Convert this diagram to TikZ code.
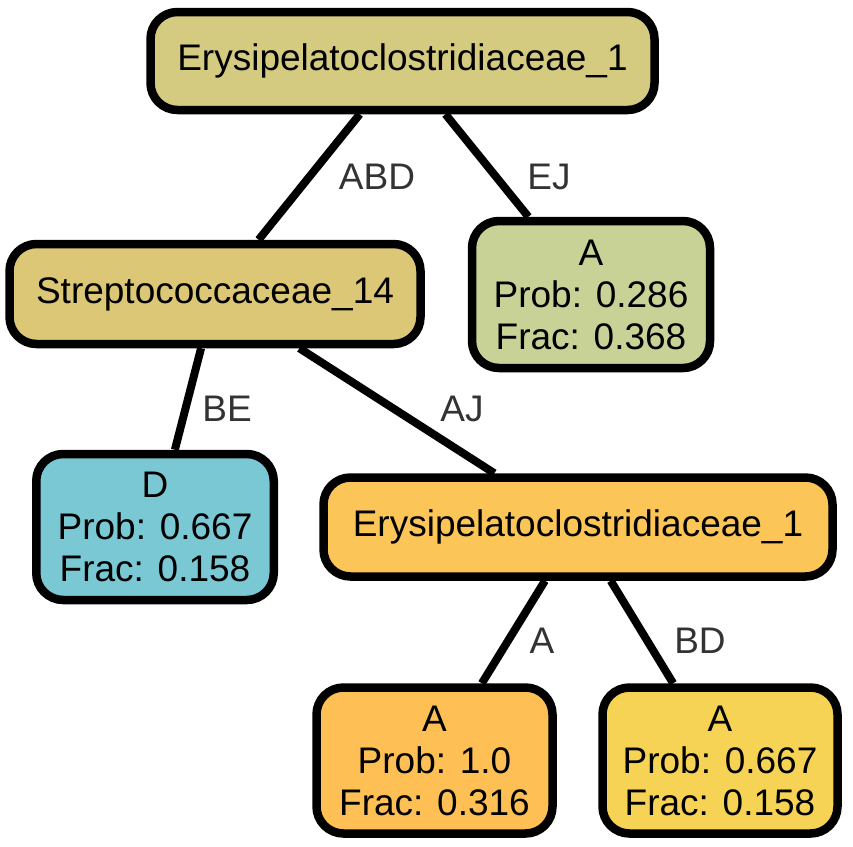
\documentclass[tikz,border=0pt]{standalone}
\usepackage{fontspec}
\setmainfont{Liberation Sans}
\definecolor{cRoot}{HTML}{D4CA80}
\definecolor{cStrep}{HTML}{DBC776}
\definecolor{cAone}{HTML}{C8D196}
\definecolor{cD}{HTML}{79C8D4}
\definecolor{cEtwo}{HTML}{FCC558}
\definecolor{cAtwo}{HTML}{FEBF55}
\definecolor{cAthree}{HTML}{F7D355}
\definecolor{cLab}{HTML}{333333}
\tikzset{
  tree/.style={draw=black, line width=8.5pt, rounded corners=27pt, inner sep=0pt, align=center,
    font=\fontsize{37}{42}\selectfont},
  edge/.style={line width=8pt, draw=black},
  elab/.style={text=cLab, inner sep=0pt, font=\fontsize{37}{42}\selectfont}
}
\begin{document}
\begin{tikzpicture}[x=1pt,y=-1pt]
\useasboundingbox (0,0) rectangle (853,846);
\node[tree, fill=cRoot, minimum width=504pt, minimum height=98pt] (root) at (402.5,61) {Erysipelatoclostridiaceae\_1};
\node[tree, fill=cStrep, minimum width=411pt, minimum height=100pt] (strep) at (215,294) {Streptococcaceae\_14};
\node[tree, fill=cAone, minimum width=238pt, minimum height=147pt] (aone) at (591,294.5) {A\\Prob: 0.286\\Frac: 0.368};
\node[tree, fill=cD, minimum width=237.5pt, minimum height=146pt] (dleaf) at (155,527) {D\\Prob: 0.667\\Frac: 0.158};
\node[tree, fill=cEtwo, minimum width=509pt, minimum height=99pt] (etwo) at (578,527) {Erysipelatoclostridiaceae\_1};
\node[tree, fill=cAtwo, minimum width=236pt, minimum height=146pt] (atwo) at (434.5,760.5) {A\\Prob: 1.0\\Frac: 0.316};
\node[tree, fill=cAthree, minimum width=235pt, minimum height=146pt] (athree) at (720,760.5) {A\\Prob: 0.667\\Frac: 0.158};
\draw[edge] (root) -- (strep);
\draw[edge] (root) -- (aone);
\draw[edge] (strep) -- (dleaf);
\draw[edge] (strep) -- (etwo);
\draw[edge] (etwo) -- (atwo);
\draw[edge] (etwo) -- (athree);
\node[elab] (lABD) at (377,177) {ABD};
\node[elab] (lEJ) at (549,177) {EJ};
\node[elab] (lBE) at (227,409) {BE};
\node[elab] (lAJ) at (462,409) {AJ};
\node[elab] (lA) at (542,641) {A};
\node[elab] (lBD) at (700,641) {BD};
\end{tikzpicture}
\end{document}
